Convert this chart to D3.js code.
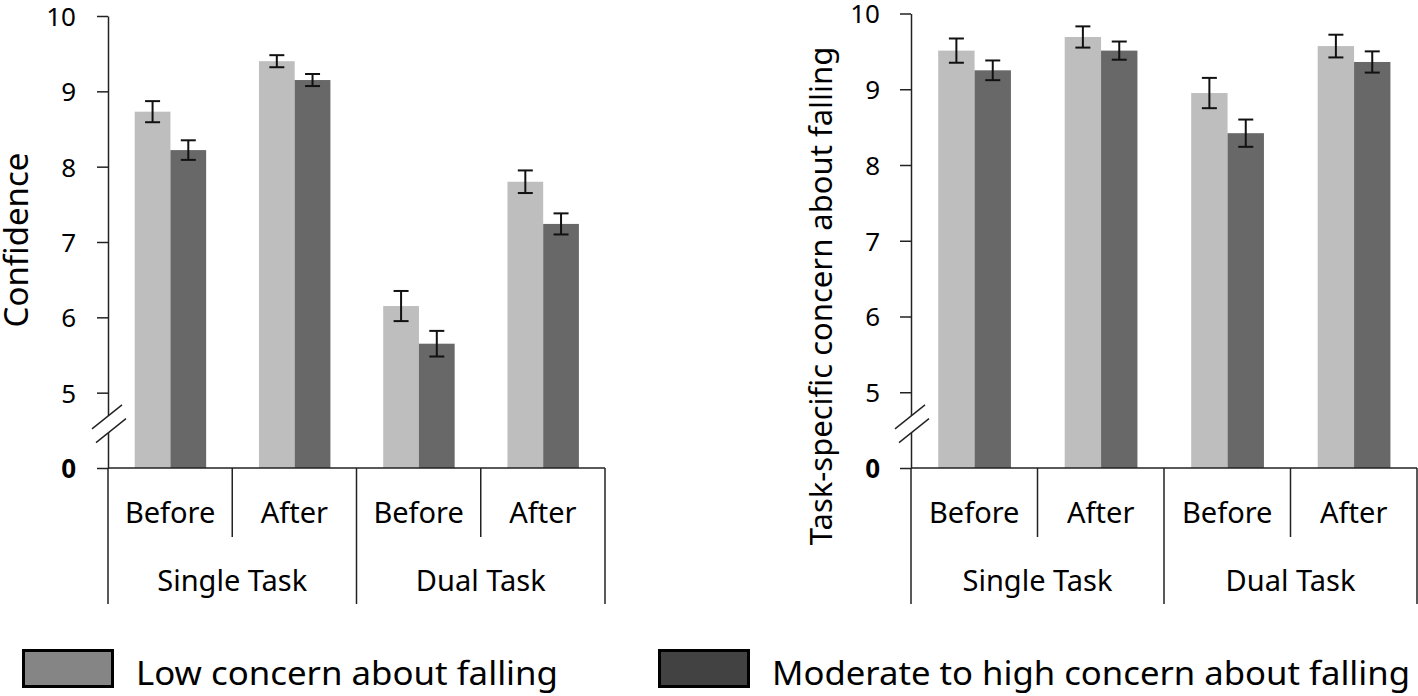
<!DOCTYPE html>
<html>
<head>
<meta charset="utf-8">
<script src="https://cdn.jsdelivr.net/npm/d3@7"></script>
<style>
  html, body { margin: 0; padding: 0; background: #fff; }
  svg { display: block; font-family: "Noto Sans", "Open Sans", sans-serif; }
</style>
</head>
<body>
<svg id="chart" width="1418" height="696"></svg>
<script>
// ---------- data ----------
const phases = ["Before", "After", "Before", "After"];
const tasks = ["Single Task", "Single Task", "Dual Task", "Dual Task"];
const taskGroups = ["Single Task", "Dual Task"];
const series = ["Low concern about falling", "Moderate to high concern about falling"];

const confidenceLow = [8.73, 9.40, 6.15, 7.80];
const confidenceLowErr = [0.14, 0.08, 0.20, 0.15];
const confidenceHigh = [8.22, 9.15, 5.65, 7.24];
const confidenceHighErr = [0.13, 0.08, 0.17, 0.14];

const concernLow = [9.51, 9.69, 8.95, 9.57];
const concernLowErr = [0.16, 0.14, 0.20, 0.15];
const concernHigh = [9.25, 9.51, 8.42, 9.36];
const concernHighErr = [0.13, 0.12, 0.18, 0.14];

const yTicks = [0, 5, 6, 7, 8, 9, 10];
const yBreakDomain = [0, 5, 10];   // broken axis: 0 .. 5 compressed to one unit

// ---------- styles ----------
const colors = ["#bebebe", "#686868"];
const legendColors = ["#858585", "#424242"];
const svg = d3.select("#chart");

function drawPanel(opt) {
  const g = svg.append("g");
  const x = d3.scaleBand().domain(d3.range(phases.length)).range([opt.left, opt.right]);
  const bw = x.bandwidth();
  const xs = d3.scaleBand().domain(series).range([bw * 0.215, bw * 0.79]);
  const y = d3.scaleLinear().domain(yBreakDomain).range([opt.bottom, opt.bottom - (opt.bottom - opt.top) / 6, opt.top]);

  const rows = [];
  phases.forEach((p, i) => {
    rows.push({ i, s: series[0], v: opt.low[i], e: opt.lowErr[i], c: colors[0] });
    rows.push({ i, s: series[1], v: opt.high[i], e: opt.highErr[i], c: colors[1] });
  });

  // bars
  g.selectAll("rect.bar").data(rows).join("rect")
    .attr("class", "bar")
    .attr("x", d => x(d.i) + xs(d.s))
    .attr("width", xs.bandwidth())
    .attr("y", d => y(d.v))
    .attr("height", d => y(0) - y(d.v))
    .attr("fill", d => d.c);

  // error bars
  const cap = 7.5;
  const eb = g.selectAll("g.err").data(rows).join("g").attr("class", "err")
    .attr("stroke", "#111").attr("stroke-width", 2);
  eb.append("line")
    .attr("x1", d => x(d.i) + xs(d.s) + xs.bandwidth() / 2)
    .attr("x2", d => x(d.i) + xs(d.s) + xs.bandwidth() / 2)
    .attr("y1", d => y(d.v + d.e)).attr("y2", d => y(d.v - d.e));
  eb.append("line")
    .attr("x1", d => x(d.i) + xs(d.s) + xs.bandwidth() / 2 - cap)
    .attr("x2", d => x(d.i) + xs(d.s) + xs.bandwidth() / 2 + cap)
    .attr("y1", d => y(d.v + d.e)).attr("y2", d => y(d.v + d.e));
  eb.append("line")
    .attr("x1", d => x(d.i) + xs(d.s) + xs.bandwidth() / 2 - cap)
    .attr("x2", d => x(d.i) + xs(d.s) + xs.bandwidth() / 2 + cap)
    .attr("y1", d => y(d.v - d.e)).attr("y2", d => y(d.v - d.e));

  // y axis
  const ax = g.append("g").attr("transform", `translate(${opt.left},0)`)
    .call(d3.axisLeft(y).tickValues(yTicks).tickSize(11).tickSizeOuter(0).tickPadding(opt.tickPad));
  ax.select(".domain").attr("stroke", "#222").attr("stroke-width", 1.5);
  ax.selectAll(".tick line").attr("stroke", "#222").attr("stroke-width", 1.5);
  ax.selectAll(".tick text")
    .attr("font-size", 26).attr("fill", "#000")
    .attr("font-family", "'Noto Sans', sans-serif")
    .attr("font-weight", d => d === 0 ? 700 : 400)
    .attr("dy", "0.36em");

  // axis break
  const y0 = y(0);
  const ya = y0 - 52, yb = y0 - 35;
  g.append("polygon")
    .attr("points", [[opt.left - 5, ya + 4], [opt.left + 5, ya - 4], [opt.left + 5, yb - 4], [opt.left - 5, yb + 4]].map(p => p.join(",")).join(" "))
    .attr("fill", "#fff");
  [ya, yb].forEach((yy, k) => {
    g.append("line")
      .attr("x1", opt.left - 16 + k * 4).attr("y1", yy + (16 - k * 4) * 0.8)
      .attr("x2", opt.left + 14 + k * 4).attr("y2", yy - (14 + k * 4) * 0.8)
      .attr("stroke", "#222").attr("stroke-width", 1.5);
  });

  // x axis baseline
  g.append("line").attr("x1", opt.left).attr("x2", opt.right).attr("y1", y0).attr("y2", y0)
    .attr("stroke", "#222").attr("stroke-width", 1.5);

  // separators
  const bounds = d3.range(phases.length + 1).map(i => i < phases.length ? x(i) : opt.right);
  bounds.forEach((bx, i) => {
    const isGroupEdge = i === 0 || i === phases.length || tasks[i] !== tasks[i - 1];
    g.append("line").attr("x1", bx).attr("x2", bx)
      .attr("y1", y0).attr("y2", isGroupEdge ? y0 + 136 : y0 + 69)
      .attr("stroke", "#222").attr("stroke-width", 1.5);
  });

  // phase labels
  g.selectAll("text.phase").data(phases).join("text")
    .attr("class", "phase")
    .attr("x", (d, i) => x(i) + bw / 2).attr("y", y0 + 55)
    .attr("text-anchor", "middle").attr("font-size", 29).attr("fill", "#000")
    .text(d => d);

  // task labels
  g.selectAll("text.task").data(taskGroups).join("text")
    .attr("class", "task")
    .attr("x", t => {
      const idx = d3.range(tasks.length).filter(i => tasks[i] === t);
      return (x(idx[0]) + x(idx[idx.length - 1]) + bw) / 2;
    })
    .attr("y", y0 + 123)
    .attr("text-anchor", "middle").attr("font-size", 29).attr("fill", "#000")
    .text(t => t);

  // y title
  g.append("text")
    .attr("transform", `translate(${opt.titleX},${opt.titleY}) rotate(-90)`)
    .attr("text-anchor", "middle").attr("font-size", opt.titleSize).attr("fill", "#000")
    .text(opt.title);
}

drawPanel({
  left: 108, right: 605, top: 16, bottom: 468, tickPad: 21,
  low: confidenceLow, lowErr: confidenceLowErr, high: confidenceHigh, highErr: confidenceHighErr,
  title: "Confidence", titleX: 28, titleY: 240, titleSize: 33
});
drawPanel({
  left: 911, right: 1417, top: 13.5, bottom: 468, tickPad: 20,
  low: concernLow, lowErr: concernLowErr, high: concernHigh, highErr: concernHighErr,
  title: "Task-specific concern about falling", titleX: 832, titleY: 296, titleSize: 31
});

// ---------- legend ----------
const legend = [
  { name: series[0], fill: legendColors[0], bx: 22, tx: 136, tw: 422 },
  { name: series[1], fill: legendColors[1], bx: 658, tx: 772, tw: 638 }
];
const lg = svg.append("g");
lg.selectAll("rect").data(legend).join("rect")
  .attr("x", d => d.bx + 1.5).attr("y", 650.5).attr("width", 89).attr("height", 36)
  .attr("fill", d => d.fill).attr("stroke", "#000").attr("stroke-width", 3);
lg.selectAll("text").data(legend).join("text")
  .attr("x", d => d.tx).attr("y", 685)
  .attr("font-size", 33).attr("fill", "#000")
  .attr("textLength", d => d.tw).attr("lengthAdjust", "spacingAndGlyphs")
  .text(d => d.name);
</script>
</body>
</html>
